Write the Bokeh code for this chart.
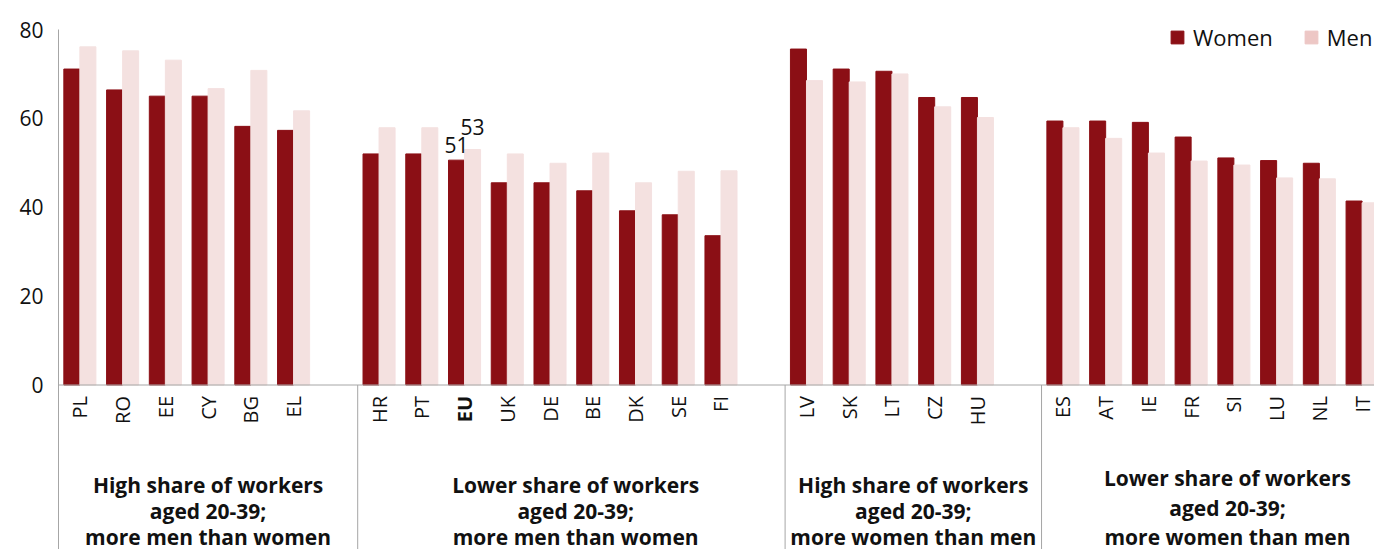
import math
from bokeh.plotting import figure
from bokeh.models import ColumnDataSource, FixedTicker, Legend, LegendItem, Range1d, Span
from bokeh.core.properties import value
from bokeh.embed import file_html
from bokeh.resources import INLINE

# ---------------- data ----------------
group1 = ["PL", "RO", "EE", "CY", "BG", "EL"]
women1 = [71.1, 66.4, 65.0, 65.0, 58.2, 57.3]
men1 = [76.1, 75.2, 73.1, 66.7, 70.8, 61.7]

group2 = ["HR", "PT", "EU", "UK", "DE", "BE", "DK", "SE", "FI"]
women2 = [52.0, 52.0, 50.6, 45.5, 45.5, 43.7, 39.2, 38.3, 33.6]
men2 = [57.9, 57.9, 53.0, 52.0, 49.9, 52.2, 45.5, 48.1, 48.2]

group3 = ["LV", "SK", "LT", "CZ", "HU"]
women3 = [75.6, 71.1, 70.6, 64.7, 64.7]
men3 = [68.5, 68.2, 70.0, 62.6, 60.2]

group4 = ["ES", "AT", "IE", "FR", "SI", "LU", "NL", "IT"]
women4 = [59.4, 59.4, 59.1, 55.8, 51.1, 50.5, 49.9, 41.4]
men4 = [57.9, 55.5, 52.2, 50.4, 49.5, 46.6, 46.4, 41.0]

group_titles = [
    ["High share of workers", "aged 20-39;", "more men than women"],
    ["Lower share of workers", "aged 20-39;", "more men than women"],
    ["High share of workers", "aged 20-39;", "more women than men"],
    ["Lower share of workers", "aged 20-39;", "more women than men"],
]
highlight = "EU"
y_ticks = [0, 20, 40, 60, 80]
y_max = 80

# ---------------- layout / styling ----------------
W, H = 1374, 549
FRAME_LEFT, FRAME_TOP, ZERO_Y = 58, 29, 384.5
y_min = -y_max * (H - ZERO_Y) / (ZERO_Y - FRAME_TOP)

WOMEN = "#8B0F15"
MEN = "#F4E1E0"
MEN_LEG = "#EDC7C5"
GREY = "#A6A6A6"
TXT = "#111111"
FONT = "Open Sans"
BAR_W = 0.375

groups = [(group1, women1, men1), (group2, women2, men2),
          (group3, women3, men3), (group4, women4, men4)]

xs, names, w_vals, m_vals = [], [], [], []
bounds = []
pos = 0
for g, w, m in groups:
    bounds.append(pos - 0.5)
    for i, c in enumerate(g):
        xs.append(pos)
        names.append(c)
        w_vals.append(w[i])
        m_vals.append(m[i])
        pos += 1
    pos += 1  # empty slot between groups

src = ColumnDataSource(dict(
    xw=[x - BAR_W / 2 for x in xs],
    xm=[x + BAR_W / 2 for x in xs],
    women=w_vals, men=m_vals))

p = figure(width=W, height=H, output_backend="svg", toolbar_location=None,
           x_range=Range1d(-0.5, 30.29), y_range=Range1d(y_min, y_max),
           x_axis_location=None,
           min_border_left=FRAME_LEFT, min_border_right=0, min_border_top=FRAME_TOP,
           min_border_bottom=0)
p.outline_line_color = None
p.xgrid.visible = False
p.ygrid.visible = False
p.background_fill_color = "white"

rw = p.vbar(x="xw", top="women", width=BAR_W, source=src,
            fill_color=WOMEN, line_color=WOMEN)
rm = p.vbar(x="xm", top="men", width=BAR_W, source=src,
            fill_color=MEN, line_color=MEN)

# y axis
yax = p.yaxis[0]
yax.ticker = FixedTicker(ticks=y_ticks)
yax.axis_line_color = GREY
yax.major_tick_line_color = None
yax.minor_tick_line_color = None
yax.major_tick_in = 0
yax.major_tick_out = 0
yax.minor_tick_in = 0
yax.minor_tick_out = 0
yax.major_label_standoff = 15
yax.major_label_text_font = FONT
yax.major_label_text_font_size = "21px"
yax.major_label_text_color = TXT

# category baseline and group separators
p.add_layout(Span(location=0, dimension="width", line_color=GREY, line_width=1))
sep_x = bounds[1:]
p.segment(x0=sep_x, y0=[0] * len(sep_x), x1=sep_x, y1=[y_min] * len(sep_x),
          line_color=GREY, line_width=1)

# category labels (vertical)
plain = [(x, n) for x, n in zip(xs, names) if n != highlight]
bold = [(x, n) for x, n in zip(xs, names) if n == highlight]
p.text(x=[a for a, _ in plain], y=[0] * len(plain), text=[b for _, b in plain],
       angle=math.pi / 2, y_offset=11, text_align="right", text_baseline="middle",
       text_font=value(FONT), text_font_size="20px", text_color=TXT)
p.text(x=[a for a, _ in bold], y=[0] * len(bold), text=[b for _, b in bold],
       angle=math.pi / 2, y_offset=11, text_align="right", text_baseline="middle",
       text_font=value(FONT), text_font_size="20px", text_font_style="bold", text_color=TXT)

# data labels for EU
eu_i = names.index(highlight)
p.text(x=[xs[eu_i] - BAR_W / 2], y=[w_vals[eu_i]], text=[str(round(w_vals[eu_i]))],
       y_offset=-15, text_align="center", text_baseline="alphabetic",
       text_font=value(FONT), text_font_size="21px", text_color=TXT)
p.text(x=[xs[eu_i] + BAR_W / 2], y=[m_vals[eu_i]], text=[str(round(m_vals[eu_i]))],
       y_offset=-22, text_align="center", text_baseline="alphabetic",
       text_font=value(FONT), text_font_size="21px", text_color=TXT)

# group titles under the categories
title_x = [3.0, 11.6, 19.5, 26.85]
title_dy = [[100, 126, 152], [100, 126, 152], [100, 126, 152], [93, 123, 152]]
for gi, lines in enumerate(group_titles):
    for li, t in enumerate(lines):
        p.text(x=[title_x[gi]], y=[0], text=[t], y_offset=title_dy[gi][li],
               text_align="center", text_baseline="alphabetic",
               text_font=value(FONT), text_font_size="21px", text_font_style="bold",
               text_color=TXT)

# legend swatches
nan = float("nan")
lw = p.vbar(x=[nan], top=[nan], width=BAR_W, fill_color=WOMEN, line_color=WOMEN)
lm = p.vbar(x=[nan], top=[nan], width=BAR_W, fill_color=MEN_LEG, line_color=MEN_LEG)
legend = Legend(items=[LegendItem(label="Women", renderers=[lw]),
                       LegendItem(label="Men", renderers=[lm])],
                orientation="horizontal", location=(1111, 497),
                glyph_width=16, glyph_height=16, label_standoff=8, spacing=30,
                padding=0, margin=0, border_line_color=None, background_fill_alpha=0,
                label_text_font=FONT, label_text_font_size="22px", label_text_color=TXT)
p.add_layout(legend)

open("out.html", "w").write(file_html(p, INLINE))
